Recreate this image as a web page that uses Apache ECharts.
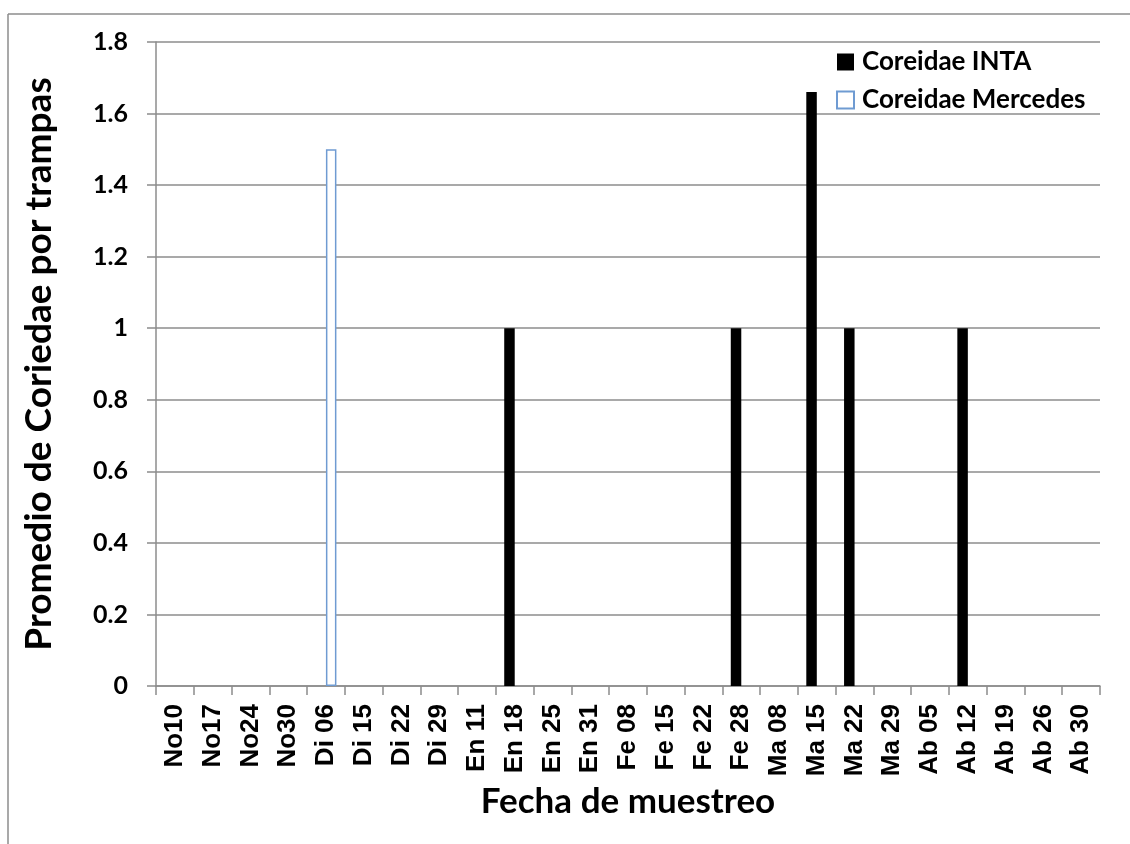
<!DOCTYPE html>
<html>
<head>
<meta charset="utf-8">
<script src="https://cdn.jsdelivr.net/npm/echarts@6/dist/echarts.min.js"></script>
<style>
  html, body { margin: 0; padding: 0; background: #fff; }
  #chart { width: 1130px; height: 844px; }
</style>
</head>
<body>
<div id="chart"></div>
<script>
// Sampling dates (Nov – Apr)
const fechas = ['No10', 'No17', 'No24', 'No30', 'Di 06', 'Di 15', 'Di 22', 'Di 29',
  'En 11', 'En 18', 'En 25', 'En 31', 'Fe 08', 'Fe 15', 'Fe 22', 'Fe 28',
  'Ma 08', 'Ma 15', 'Ma 22', 'Ma 29', 'Ab 05', 'Ab 12', 'Ab 19', 'Ab 26', 'Ab 30'];

// Mean Coreidae per trap at each site
const coreidaeINTA = [0, 0, 0, 0, 0, 0, 0, 0, 0, 1, 0, 0, 0, 0, 0, 1, 0, 1.66, 1, 0, 0, 1, 0, 0, 0];
const coreidaeMercedes = [0, 0, 0, 0, 1.5, 0, 0, 0, 0, 0, 0, 0, 0, 0, 0, 0, 0, 0, 0, 0, 0, 0, 0, 0, 0];

const FONT = 'Lato';
const LABEL_FONT = 'Liberation Sans';
const GRID_COLOR = '#8c8c8c';

// Zero-height outlined bars would leave a stray stroke on the axis; drop their border
const outlined = vals => vals.map(v => (v === 0 ? { value: v, itemStyle: { borderWidth: 0 } } : v));

const chart = echarts.init(document.getElementById('chart'));
chart.setOption({
  backgroundColor: '#fff',
  animation: false,
  textStyle: { fontFamily: FONT },
  graphic: [
    { type: 'line', shape: { x1: 8, y1: 14, x2: 1130, y2: 14 }, style: { stroke: GRID_COLOR, lineWidth: 1.5 } },
    { type: 'line', shape: { x1: 8, y1: 14, x2: 8, y2: 844 }, style: { stroke: GRID_COLOR, lineWidth: 1.5 } }
  ],
  legend: {
    orient: 'vertical',
    left: 831,
    top: 44,
    icon: 'rect',
    itemWidth: 17,
    itemHeight: 17,
    itemGap: 12,
    textStyle: { fontFamily: FONT, fontWeight: 'bold', fontSize: 26, lineHeight: 26, color: '#000', padding: [0, 0, 0, 3] },
    data: ['Coreidae INTA', 'Coreidae Mercedes']
  },
  grid: { left: 156, right: 30, top: 42, bottom: 158, containLabel: false },
  xAxis: {
    type: 'category',
    data: fechas,
    name: 'Fecha de muestreo',
    nameLocation: 'middle',
    nameGap: 92,
    nameTextStyle: { fontFamily: FONT, fontWeight: 'bold', fontSize: 35, color: '#000' },
    axisLine: { lineStyle: { color: GRID_COLOR, width: 1.5 } },
    axisTick: { show: true, alignWithLabel: false, length: 9, lineStyle: { color: GRID_COLOR, width: 1.5 } },
    axisLabel: {
      rotate: 90,
      margin: 18,
      interval: 0,
      fontFamily: LABEL_FONT,
      fontWeight: 'bold',
      fontSize: 26,
      color: '#000'
    }
  },
  yAxis: {
    type: 'value',
    min: 0,
    max: 1.8,
    interval: 0.2,
    name: 'Promedio de Coriedae por trampas',
    nameLocation: 'middle',
    nameGap: 98,
    nameTextStyle: { fontFamily: FONT, fontWeight: 'bold', fontSize: 37, color: '#000' },
    axisLine: { show: true, lineStyle: { color: GRID_COLOR, width: 1.5 } },
    axisTick: { show: true, length: 9, lineStyle: { color: GRID_COLOR, width: 1.5 } },
    splitLine: { lineStyle: { color: GRID_COLOR, width: 1.5 } },
    axisLabel: {
      margin: 28,
      fontFamily: FONT,
      fontWeight: 'bold',
      fontSize: 25,
      color: '#000',
      formatter: v => String(Math.round(v * 10) / 10)
    }
  },
  series: [
    {
      name: 'Coreidae INTA',
      type: 'bar',
      data: coreidaeINTA,
      barWidth: 10.5,
      barGap: '0%',
      itemStyle: { color: '#000' }
    },
    {
      name: 'Coreidae Mercedes',
      type: 'bar',
      data: outlined(coreidaeMercedes),
      barWidth: 10.5,
      barGap: '0%',
      itemStyle: { color: '#fff', borderColor: '#6f9bd2', borderWidth: 1.5 }
    }
  ]
});
</script>
</body>
</html>
